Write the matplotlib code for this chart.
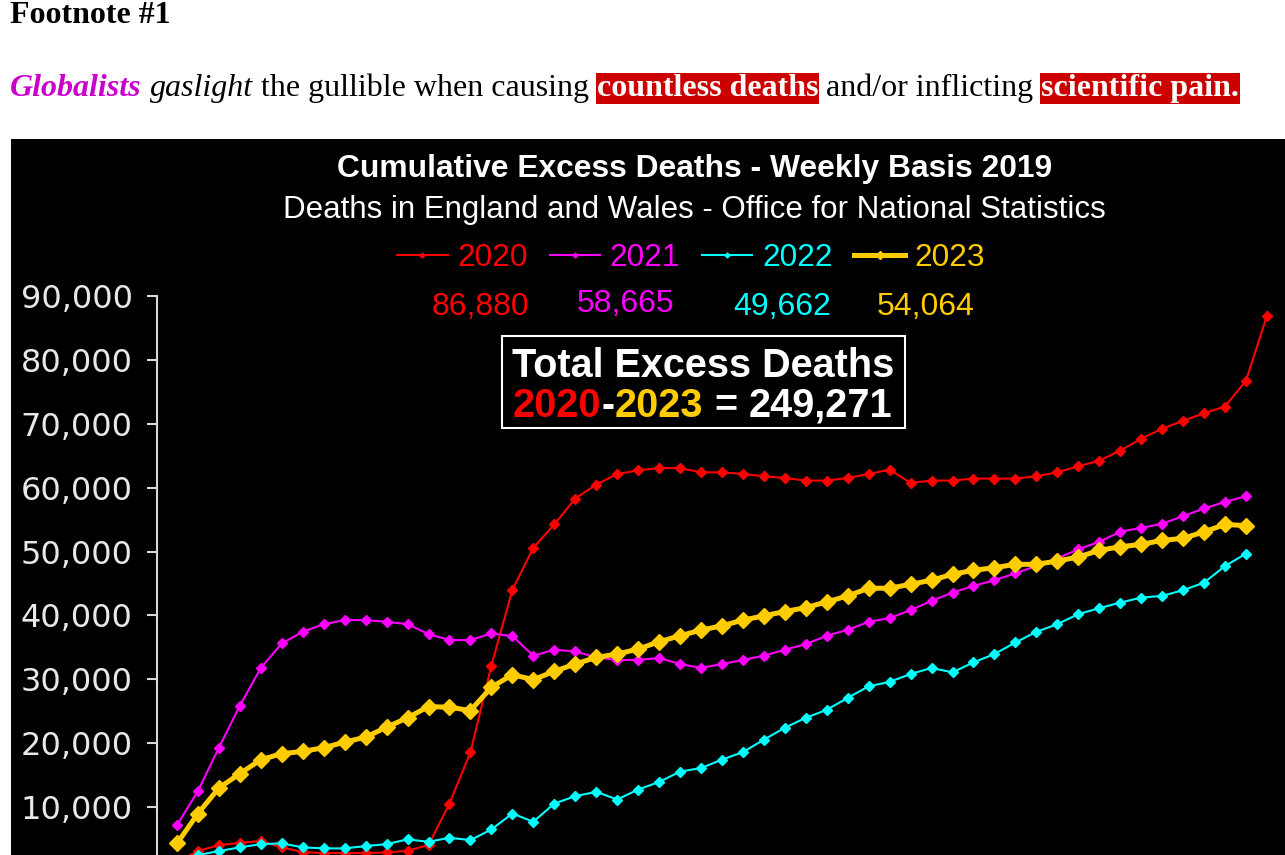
import matplotlib
matplotlib.use("Agg")
import matplotlib.pyplot as plt
from matplotlib.patches import Rectangle
from matplotlib.ticker import FuncFormatter

W, H = 1285, 855

years = ["2020", "2021", "2022", "2023"]
colors = ["#ff0000", "#ff00ff", "#00ffff", "#ffcc00"]

weeks_2020 = list(range(1, 54))
weeks = list(range(1, 53))

deaths_2020 = [1400, 3120, 4060, 4400, 4680, 3700, 2960, 2800, 2800, 2800, 2900, 3170, 4060,
               10560, 18600, 32140, 44000, 50590, 54240, 58300, 60480, 62140, 62710, 63070,
               63070, 62400, 62400, 62140, 61780, 61510, 61110, 61110, 61510, 62140, 62820,
               60730, 61110, 61110, 61420, 61420, 61420, 61780, 62400, 63340, 64230, 65790,
               67660, 69220, 70470, 71650, 72700, 76750, 86880]
deaths_2021 = [7180, 12530, 19300, 25900, 31780, 35620, 37440, 38640, 39270, 39270, 39000,
               38640, 37080, 36150, 36150, 37180, 36770, 33700, 34630, 34370, 33430, 33030,
               33030, 33340, 32400, 31780, 32400, 33030, 33700, 34630, 35520, 36820, 37750,
               39000, 39580, 40830, 42280, 43570, 44620, 45510, 46600, 47740, 48940, 50340,
               51530, 53090, 53710, 54340, 55540, 56740, 57770, 58665]
deaths_2022 = [1000, 2500, 3120, 3700, 4210, 4320, 3700, 3540, 3540, 3900, 4210, 4950, 4570,
               5200, 4840, 6500, 9000, 7700, 10560, 11700, 12400, 11190, 12750, 13930, 15550,
               16120, 17430, 18610, 20550, 22420, 23980, 25230, 27100, 28910, 29600, 30840,
               31780, 31090, 32650, 33960, 35770, 37440, 38640, 40200, 41140, 42010, 42790,
               43060, 43950, 45130, 47740, 49662]
deaths_2023 = [4320, 9000, 13000, 15240, 17430, 18360, 18720, 19300, 20170, 20950, 22510,
               23980, 25740, 25630, 25120, 28750, 30730, 29950, 31250, 32400, 33430, 33960,
               34740, 35880, 36820, 37710, 38380, 39270, 39940, 40610, 41230, 42120, 43060,
               44260, 44260, 44880, 45510, 46440, 47070, 47470, 48000, 48000, 48520, 49140,
               50190, 50750, 51120, 51750, 52060, 53090, 54240, 54064]
yticks = list(range(10000, 90001, 10000))

SANS = "Liberation Sans"
SERIF = "Liberation Serif"


def fx(x):
    return x / W


def fy(y):
    return 1 - y / H


fig = plt.figure(figsize=(12.85, 8.55), dpi=100, facecolor="white")
renderer = fig.canvas.get_renderer()


def run(x, y, pieces):
    # place text pieces one after another on a common baseline
    for s, kw, gap in pieces:
        t = fig.text(fx(x), fy(y), s, ha="left", va="baseline", **kw)
        x += t.get_window_extent(renderer).width + gap


# header text above the chart
fig.text(fx(10), fy(23), "Footnote #1", family=SERIF, fontsize=23, fontweight="bold",
         ha="left", va="baseline", color="black")
red_box = dict(facecolor="#cc0000", edgecolor="none", pad=0.8)
serif23 = dict(family=SERIF, fontsize=23)
run(10, 96, [
    ("Globalists", dict(fontweight="bold", style="italic", color="#cc00cc", **serif23), 8),
    ("gaslight", dict(style="italic", color="black", **serif23), 8),
    ("the gullible when causing", dict(color="black", **serif23), 8),
    ("countless deaths", dict(fontweight="bold", color="white", bbox=red_box, **serif23), 8),
    ("and/or inflicting", dict(color="black", **serif23), 8),
    ("scientific pain.", dict(fontweight="bold", color="white", bbox=red_box, **serif23), 0),
])

# black chart panel
fig.add_artist(Rectangle((fx(11), 0), 1 - fx(11), fy(139), transform=fig.transFigure,
                         facecolor="black", edgecolor="none", zorder=0))

ax = fig.add_axes([fx(157), fy(900), 1 - fx(157), (900 - 296) / H])
ax.set_facecolor("black")
ax.set_xlim(1 + (157 - 177) / 20.96, 1 + (1285 - 177) / 20.96)
ax.set_ylim(-(900 - 871) / 575 * 90000, 90000)

series = [(weeks_2020, deaths_2020), (weeks, deaths_2021), (weeks, deaths_2022), (weeks, deaths_2023)]
handles = []
for (xs, ys), c, yr in zip(series, colors, years):
    gold = yr == "2023"
    ln, = ax.plot(xs, ys, color=c, lw=3.6 if gold else 1.5, marker="D",
                  ms=8 if gold else 5, label=yr)
    handles.append(ln)

for sp in ["top", "right", "bottom"]:
    ax.spines[sp].set_visible(False)
ax.spines["left"].set_color("#d8d8d8")
ax.spines["left"].set_linewidth(1.5)
ax.set_xticks([])
ax.set_yticks(yticks)
ax.yaxis.set_major_formatter(FuncFormatter(lambda v, p: f"{v:,.0f}"))
ax.tick_params(axis="y", length=7.5, width=1.5, color="#d8d8d8", pad=10,
               labelsize=23, labelcolor="#e8e8e8")
for lab in ax.get_yticklabels():
    lab.set_family("DejaVu Sans")

# titles
fig.text(fx(695), fy(176.5), "Cumulative Excess Deaths - Weekly Basis 2019", ha="center",
         va="baseline", color="white", fontsize=22.9, fontweight="bold", family=SANS)
fig.text(fx(694), fy(218), "Deaths in England and Wales - Office for National Statistics",
         ha="center", va="baseline", color="white", fontsize=22.5, family=SANS)

leg = ax.legend(handles=handles, ncol=4, loc="center", bbox_to_anchor=(fx(691), fy(258)),
                bbox_transform=fig.transFigure, frameon=False, handlelength=1.6,
                handletextpad=0.3, columnspacing=0.7, markerscale=0.5,
                labelcolor="linecolor", prop=dict(family=SANS, size=22.7))

# final cumulative value of each year
totals = [d[-1] for d in (deaths_2020, deaths_2021, deaths_2022, deaths_2023)]
val_x = [480, 626, 782, 926]
val_y = [315, 312.5, 315, 315]
for v, c, x, y in zip(totals, colors, val_x, val_y):
    fig.text(fx(x), fy(y), f"{v:,}", ha="center", va="baseline", color=c,
             fontsize=23, family=SANS)

# total box
fig.add_artist(Rectangle((fx(501.5), fy(427.7)), (905 - 501.5) / W, (427.7 - 336.5) / H,
                         fill=False, edgecolor="white", lw=1.5, transform=fig.transFigure))
fig.text(fx(703.5), fy(376.7), "Total Excess Deaths", ha="center", va="baseline",
         color="white", fontsize=28.5, fontweight="bold", family=SANS)
bold28 = dict(fontsize=28.5, fontweight="bold", family=SANS)
run(513, 416.5, [
    ("2020", dict(color=colors[0], **bold28), 0),
    ("-", dict(color="white", **bold28), 0),
    ("2023", dict(color=colors[3], **bold28), 11),
    ("=", dict(color="white", **bold28), 11),
    (f"{sum(totals):,}", dict(color="white", **bold28), 0),
])

fig.savefig("out.png", dpi=100, facecolor="white")
